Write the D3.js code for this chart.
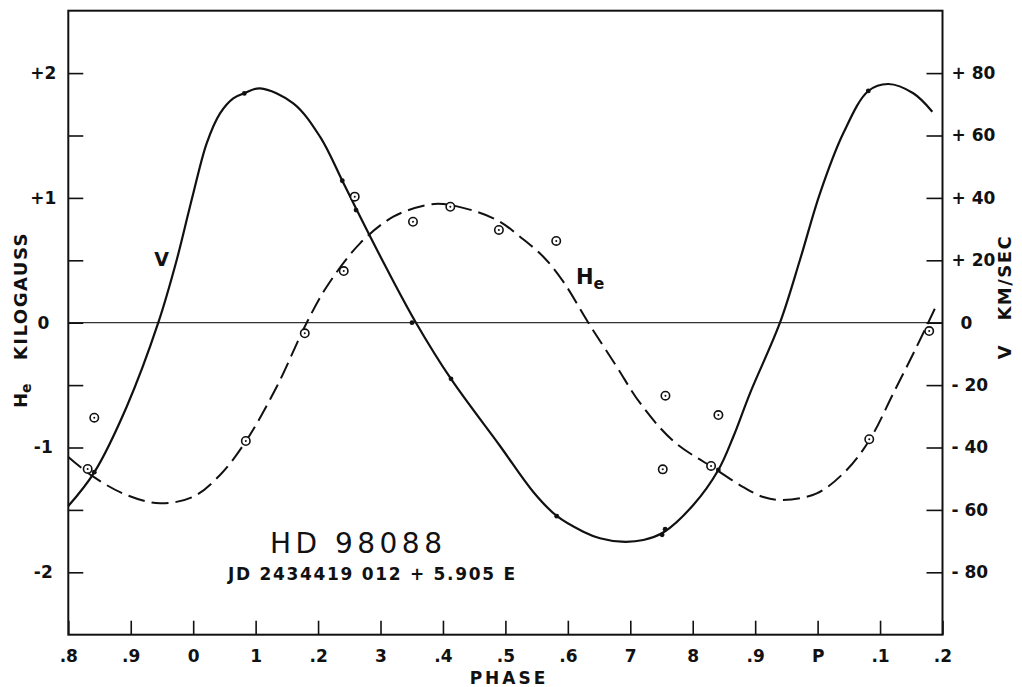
<!DOCTYPE html>
<html>
<head>
<meta charset="utf-8">
<script src="https://cdn.jsdelivr.net/npm/d3@7"></script>
<style>
  html, body { margin: 0; padding: 0; background: #fff; }
  svg { display: block; }
  text { font-family: "DejaVu Sans", sans-serif; fill: #111; }
</style>
</head>
<body>
<svg id="chart" width="1022" height="687"></svg>
<script>
// Phase axis: one and a half cycles, .8 through P (=1.0) to .2
const phaseTicks = [0.8, 0.9, 1.0, 1.1, 1.2, 1.3, 1.4, 1.5, 1.6, 1.7, 1.8, 1.9, 2.0, 2.1, 2.2];
const phaseLabels = [".8", ".9", "0", "1", ".2", "3", ".4", ".5", ".6", "7", "8", ".9", "P", ".1", ".2"];

// Left axis: effective field He in kilogauss
const heTicks = [-2, -1.5, -1, -0.5, 0, 0.5, 1, 1.5, 2];
const heLabels = { "-2": "-2", "-1": "-1", "0": "0", "1": "+1", "2": "+2" };

// Right axis: radial velocity V in km/sec
const vTicks = [-80, -60, -40, -20, 0, 20, 40, 60, 80];
const vLabels = ["- 80", "- 60", "- 40", "- 20", "0", "+ 20", "+ 40", "+ 60", "+ 80"];

// Velocity curve (phase, km/sec)
const vCurvePhase = [0.800, 0.8416, 0.8935, 0.9441, 0.9736, 0.9922, 1.0002, 1.0216, 1.0430, 1.0642, 1.0819, 1.1070, 1.1603, 1.2031, 1.2388, 1.2608, 1.3088, 1.3568, 1.4129, 1.4914, 1.5447, 1.5822, 1.6248, 1.6515, 1.6863, 1.7209, 1.7540, 1.8009, 1.8410, 1.8650, 1.8917, 1.9397, 1.9717, 2.0038, 2.0411, 2.0812, 2.1132, 2.1532, 2.1837];
const vCurveKms   = [-58.75, -47.95, -26.92, 0, 20.10, 35.06, 41.47, 57.50, 67.11, 71.92, 73.53, 75.13, 70.32, 59.62, 45.51, 36.60, 17.76, 0, -18.04, -39.52, -54.26, -61.95, -66.99, -69.10, -70.19, -69.65, -67.08, -58.43, -47.21, -36.54, -22.63, 0, 20.10, 41.47, 60.70, 74.26, 76.51, 73.53, 67.63];

// Field curve (phase, kilogauss)
const heCurvePhase = [0.800, 0.8400, 0.8935, 0.9469, 1.0002, 1.0430, 1.0846, 1.1338, 1.1818, 1.2138, 1.2672, 1.3205, 1.3740, 1.4006, 1.4541, 1.4914, 1.5234, 1.5607, 1.5927, 1.6328, 1.6783, 1.7156, 1.7689, 1.8384, 1.8810, 1.9130, 1.9425, 1.9986, 2.0466, 2.0839, 2.1212, 2.1587, 2.1917];
const heCurveKg    = [-1.076, -1.234, -1.381, -1.447, -1.394, -1.220, -0.948, -0.513, 0, 0.288, 0.636, 0.849, 0.943, 0.951, 0.889, 0.809, 0.689, 0.529, 0.329, 0, -0.353, -0.643, -0.948, -1.180, -1.317, -1.397, -1.421, -1.367, -1.180, -0.934, -0.566, -0.192, 0.155];

// Velocity observations (dots)
const vObsPhase = [0.8416, 1.0819, 1.2388, 1.2608, 1.3504, 1.4129, 1.5822, 1.7510, 1.7558, 1.8410, 2.0812];
const vObsKms   = [-47.9, 73.5, 45.5, 36.1, 0, -18.0, -62.0, -68.0, -66.2, -47.2, 74.3];

// Field observations (circled dots)
const heObsPhase = [0.831, 0.8416, 1.0843, 1.1787, 1.2411, 1.2587, 1.352, 1.4118, 1.4896, 1.5814, 1.752, 1.7563, 1.8294, 1.8411, 2.0827, 2.1787];
const heObsKg    = [-1.172, -0.761, -0.948, -0.085, 0.414, 1.010, 0.809, 0.929, 0.743, 0.655, -1.175, -0.585, -1.148, -0.740, -0.934, -0.067];

const svg = d3.select("#chart");
const plotLeft = 68.3, plotRight = 942.5, plotTop = 10.7, plotBottom = 634.7;

const x = d3.scaleLinear().domain([0.8, 2.2]).range([plotLeft, plotRight]);
const yHe = d3.scaleLinear().domain([-2.5, 2.5]).range([plotBottom, plotTop]);
const yV = d3.scaleLinear().domain([-100, 100]).range([plotBottom, plotTop]);

// zero line
svg.append("line")
  .attr("x1", plotLeft).attr("x2", plotRight)
  .attr("y1", yHe(0)).attr("y2", yHe(0))
  .attr("stroke", "#333").attr("stroke-width", 1.2);

// axes
const tickStyle = g => {
  g.select(".domain").remove();
  g.selectAll(".tick line").attr("stroke", "#111").attr("stroke-width", 1.6);
  g.selectAll(".tick text")
    .style("font-family", "'DejaVu Sans', sans-serif")
    .style("font-weight", "bold")
    .style("font-size", "17px")
    .attr("fill", "#111");
};

svg.append("g")
  .attr("transform", `translate(0,${plotBottom})`)
  .call(d3.axisBottom(x).tickValues(phaseTicks)
    .tickFormat((d, i) => phaseLabels[i]).tickSizeInner(-14).tickSizeOuter(0).tickPadding(15))
  .call(tickStyle);

const gl = svg.append("g")
  .attr("transform", `translate(${plotLeft},0)`)
  .call(d3.axisLeft(yHe).tickValues(heTicks)
    .tickFormat(d => heLabels[String(d)] || "").tickSizeInner(-15).tickSizeOuter(0))
  .call(tickStyle);
gl.selectAll(".tick text").attr("text-anchor", "middle").attr("x", -25);

const gr = svg.append("g")
  .attr("transform", `translate(${plotRight},0)`)
  .call(d3.axisRight(yV).tickValues(vTicks)
    .tickFormat((d, i) => vLabels[i]).tickSizeInner(-16).tickSizeOuter(0))
  .call(tickStyle);
gr.selectAll(".tick text").attr("text-anchor", "start").attr("x", 9)
  .filter(d => d === 0).attr("x", 18);

// frame
svg.append("rect")
  .attr("x", plotLeft).attr("y", plotTop)
  .attr("width", plotRight - plotLeft).attr("height", plotBottom - plotTop)
  .attr("fill", "none").attr("stroke", "#111").attr("stroke-width", 2);

// curves
const vLine = d3.line()
  .x((d, i) => x(vCurvePhase[i]))
  .y((d, i) => yV(vCurveKms[i]))
  .curve(d3.curveCatmullRom.alpha(0.5));
svg.append("path")
  .attr("d", vLine(vCurvePhase))
  .attr("fill", "none").attr("stroke", "#111").attr("stroke-width", 2.2);

const heLine = d3.line()
  .x((d, i) => x(heCurvePhase[i]))
  .y((d, i) => yHe(heCurveKg[i]))
  .curve(d3.curveCatmullRom.alpha(0.5));
svg.append("path")
  .attr("d", heLine(heCurvePhase))
  .attr("fill", "none").attr("stroke", "#111").attr("stroke-width", 2)
  .attr("stroke-dasharray", "17,7");

// observations
svg.append("g").selectAll("circle")
  .data(vObsPhase)
  .join("circle")
  .attr("cx", (d, i) => x(d))
  .attr("cy", (d, i) => yV(vObsKms[i]))
  .attr("r", 2.4).attr("fill", "#111");

const heObs = svg.append("g").selectAll("g")
  .data(heObsPhase)
  .join("g")
  .attr("transform", (d, i) => `translate(${x(d)},${yHe(heObsKg[i])})`);
heObs.append("circle").attr("r", 4.2).attr("fill", "#fff").attr("stroke", "#111").attr("stroke-width", 1.6);
heObs.append("circle").attr("r", 1).attr("fill", "#111");

// curve labels
svg.append("text").attr("x", 161.5).attr("y", 265.5)
  .attr("text-anchor", "middle")
  .style("font-weight", "bold").style("font-size", "19px").text("V");

const heLbl = svg.append("text").attr("x", 576).attr("y", 284)
  .style("font-weight", "bold").style("font-size", "21px");
heLbl.append("tspan").text("H");
heLbl.append("tspan").attr("dy", 5).style("font-size", "16px").text("e");

// axis titles
const lt = svg.append("text")
  .attr("transform", "translate(27,320) rotate(-90)")
  .attr("text-anchor", "middle")
  .attr("xml:space", "preserve")
  .style("font-weight", "bold").style("font-size", "18px");
lt.append("tspan").text("H");
lt.append("tspan").attr("dy", 4).style("font-size", "14px").text("e");
lt.append("tspan").attr("dy", -4).style("letter-spacing", "1.5px").text("   KILOGAUSS");

svg.append("text")
  .attr("transform", "translate(1011,297) rotate(-90)")
  .attr("text-anchor", "middle")
  .attr("xml:space", "preserve")
  .style("font-weight", "bold").style("font-size", "18px")
  .style("letter-spacing", "1.5px")
  .text("V   KM/SEC");

svg.append("text")
  .attr("x", 509).attr("y", 684)
  .attr("text-anchor", "middle")
  .style("font-weight", "bold").style("font-size", "17px")
  .style("letter-spacing", "3px")
  .text("PHASE");

// star designation and ephemeris
svg.append("text")
  .attr("x", 270).attr("y", 553)
  .attr("textLength", 172).attr("lengthAdjust", "spacing")
  .style("font-size", "28px")
  .text("HD 98088");

svg.append("text")
  .attr("x", 228).attr("y", 580)
  .attr("textLength", 287).attr("lengthAdjust", "spacing")
  .style("font-weight", "bold").style("font-size", "17px")
  .text("JD 2434419 012 + 5.905 E");
</script>
</body>
</html>
